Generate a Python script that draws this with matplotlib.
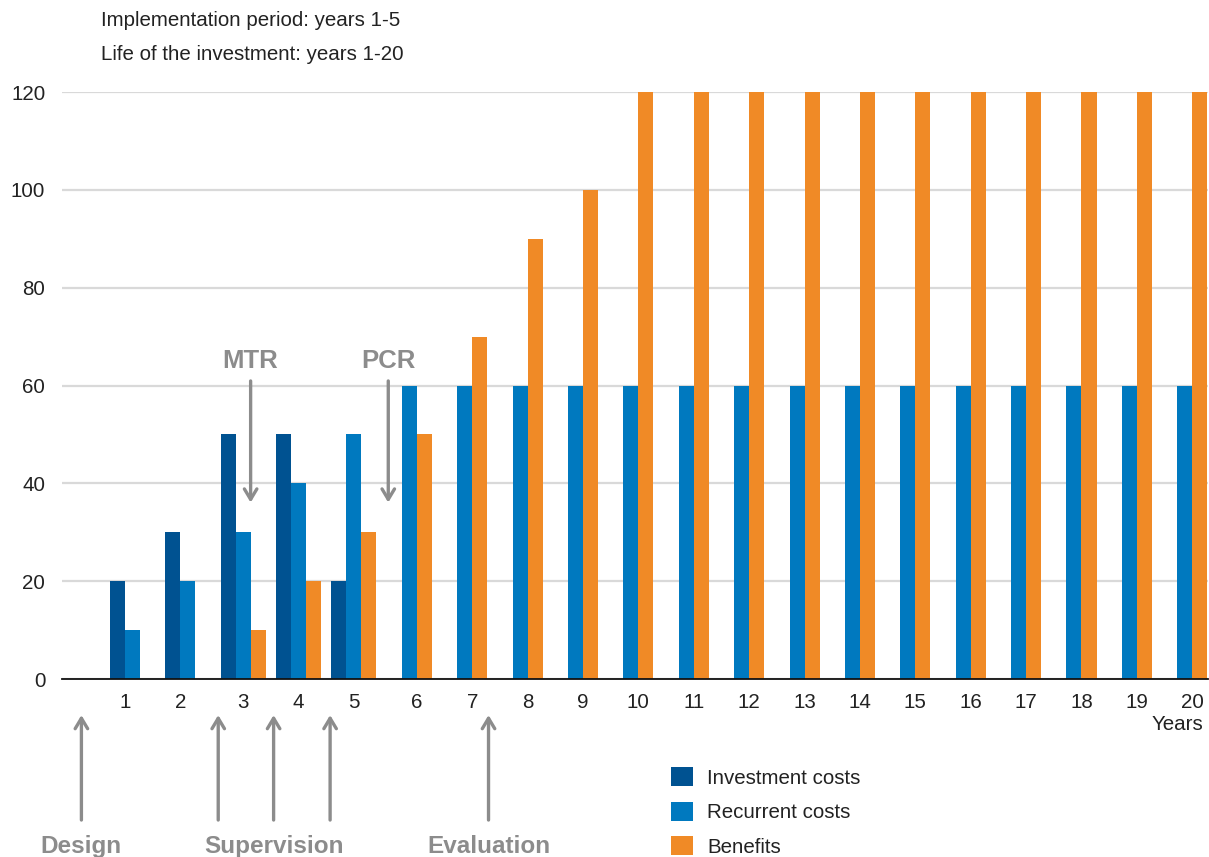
import numpy as np
import matplotlib.pyplot as plt
from matplotlib.patches import Patch

plt.rcParams["font.family"] = ["Liberation Sans", "DejaVu Sans"]

years = list(range(1, 21))
investment = [20, 30, 50, 50, 20, 0, 0, 0, 0, 0, 0, 0, 0, 0, 0, 0, 0, 0, 0, 0]
recurrent = [10, 20, 30, 40, 50, 60, 60, 60, 60, 60, 60, 60, 60, 60, 60, 60, 60, 60, 60, 60]
benefits = [0, 0, 10, 20, 30, 50, 70, 90, 100, 120, 120, 120, 120, 120, 120, 120, 120, 120, 120, 120]
series_names = ["Investment costs", "Recurrent costs", "Benefits"]
colors = ["#005291", "#0079BF", "#F08A26"]

header = ["Implementation period: years 1-5", "Life of the investment: years 1-20"]
milestones_top = [("MTR", 3.135), ("PCR", 5.62)]
milestones_bottom = [("Design", [0.08]), ("Supervision", [2.55, 3.55, 4.57]), ("Evaluation", [7.43])]

GRAY = "#8C8C8C"
TEXT = "#222222"
FS = 14.8

fig = plt.figure(figsize=(12.09, 8.57), dpi=100)
ax = fig.add_axes([0.0513, 0.2077, 0.9479, 0.6849])

w = 0.271
x = np.array(years, dtype=float)
all_series = [investment, recurrent, benefits]
offsets = [-w, 0, w]
for vals, off, col, name in zip(all_series, offsets, colors, series_names):
    ax.bar(x + off, vals, width=w, color=col, label=name, zorder=3)

# tick under the middle of the bars that are actually drawn
tick_pos = []
for i in range(len(years)):
    centers = [x[i] + off for vals, off in zip(all_series, offsets) if vals[i] > 0]
    tick_pos.append(np.mean(centers))
ax.set_xticks(tick_pos)
ax.set_xticklabels([str(y) for y in years])

ax.set_xlim(-0.27, 20.42)
ax.set_ylim(0, 120)
ax.set_yticks(range(0, 121, 20))
ax.grid(axis="y", color="#D9D9D9", linewidth=1.6, zorder=0)
for s in ["top", "right", "left"]:
    ax.spines[s].set_visible(False)
ax.spines["bottom"].set_color("#111111")
ax.spines["bottom"].set_linewidth(1.3)
ax.spines["bottom"].set_zorder(4)
ax.tick_params(axis="both", length=0, labelsize=FS, labelcolor=TEXT)
ax.tick_params(axis="y", pad=12)
ax.tick_params(axis="x", pad=10)

fig.text(1203 / 1209, 1 - 725 / 857, "Years", ha="right", va="center",
         fontsize=FS, color=TEXT)

for i, line in enumerate(header):
    fig.text(101 / 1209, 1 - (21 + 33 * i) / 857, line, ha="left", va="center",
             fontsize=FS, color=TEXT)

arrow = dict(arrowstyle="->,head_length=0.75,head_width=0.45", color=GRAY, lw=2.4)
for label, xpos in milestones_top:
    ax.annotate("", xy=(xpos, 35.5), xytext=(xpos, 61.5), arrowprops=arrow)
    ax.text(xpos, 65.0, label, ha="center", va="center", fontsize=18.5,
            fontweight="bold", color=GRAY)

for label, xs in milestones_bottom:
    for xpos in xs:
        ax.annotate("", xy=(xpos, -6.8), xytext=(xpos, -29.4), arrowprops=arrow,
                    annotation_clip=False)
    ax.text(np.mean(xs), -34.2, label, ha="center", va="center", fontsize=17.5,
            fontweight="bold", color=GRAY, clip_on=False)

handles = [Patch(facecolor=c, edgecolor="none") for c in colors]
fig.legend(handles, series_names, loc="upper left",
           bbox_to_anchor=(671 / 1209, 1 - 767 / 857), bbox_transform=fig.transFigure,
           frameon=False, fontsize=FS, handlelength=1.05, handleheight=1.05,
           handletextpad=0.7, labelspacing=0.68, borderpad=0, borderaxespad=0,
           labelcolor=TEXT)

fig.savefig("out.png", dpi=100)
